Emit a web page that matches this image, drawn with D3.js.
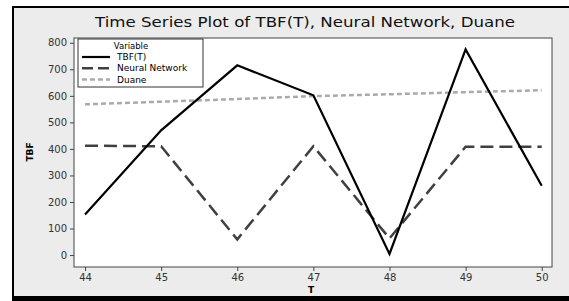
<!DOCTYPE html>
<html>
<head>
<meta charset="utf-8">
<script src="https://cdn.jsdelivr.net/npm/d3@7"></script>
<style>
  body { margin: 0; background: #fff; }
  svg { display: block; }
</style>
</head>
<body>
<div id="chart"></div>
<script>
///// DATA /////
const periods = [44, 45, 46, 47, 48, 49, 50];
const tbf = [153, 470, 715, 602, 4, 775, 261];
const neuralNetwork = [412, 410, 59, 410, 63, 408, 408];
const duane = [568, 578, 588, 599, 606, 614, 621];
const yTicks = [0, 100, 200, 300, 400, 500, 600, 700, 800];
const seriesNames = ["TBF(T)", "Neural Network", "Duane"];

///// CHART /////
const width = 569;
const height = 301;
const plot = { left: 74, right: 552, top: 38, bottom: 267 };

const svg = d3.select("#chart").append("svg")
    .attr("width", width)
    .attr("height", height);

// outer frame
svg.append("rect")
    .attr("x", 13).attr("y", 7)
    .attr("width", width).attr("height", 290)
    .attr("fill", "#ececec")
    .attr("stroke", "#000")
    .attr("stroke-width", 2);
svg.append("rect")
    .attr("x", 12).attr("y", 296)
    .attr("width", width).attr("height", 6)
    .attr("fill", "#000");

const x = d3.scaleLinear()
    .domain([43.855, 50.135])
    .range([plot.left, plot.right]);

const y = d3.scaleLinear()
    .domain([-45, 818])
    .range([plot.bottom, plot.top]);

// plot area
svg.append("rect")
    .attr("x", plot.left).attr("y", plot.top)
    .attr("width", plot.right - plot.left)
    .attr("height", plot.bottom - plot.top)
    .attr("fill", "#fff")
    .attr("stroke", "#444")
    .attr("stroke-width", 1);

// axes
const xAxis = svg.append("g")
    .attr("transform", `translate(0,${plot.bottom})`)
    .call(d3.axisBottom(x).tickValues(periods).tickFormat(d3.format("d")).tickSize(4).tickPadding(3));

const yAxis = svg.append("g")
    .attr("transform", `translate(${plot.left},0)`)
    .call(d3.axisLeft(y).tickValues(yTicks).tickSize(4).tickPadding(3));

[xAxis, yAxis].forEach(g => {
    g.select(".domain").remove();
    g.selectAll(".tick line").attr("stroke", "#444");
    g.selectAll(".tick text")
        .attr("fill", "#333")
        .style("font", "10px 'DejaVu Sans', sans-serif");
});

// titles
svg.append("text")
    .attr("x", 305).attr("y", 27)
    .attr("text-anchor", "middle")
    .attr("textLength", 420)
    .attr("lengthAdjust", "spacingAndGlyphs")
    .style("font", "14px 'DejaVu Sans', sans-serif")
    .attr("fill", "#111")
    .text("Time Series Plot of TBF(T), Neural Network, Duane");

svg.append("text")
    .attr("x", 311).attr("y", 293)
    .attr("text-anchor", "middle")
    .style("font", "bold 9px 'DejaVu Sans', sans-serif")
    .text("T");

svg.append("text")
    .attr("transform", `translate(33,152) rotate(-90)`)
    .attr("text-anchor", "middle")
    .style("font", "bold 9px 'DejaVu Sans', sans-serif")
    .text("TBF");

// series
const styles = [
    { values: tbf, stroke: "#000", width: 2.2, dash: null },
    { values: neuralNetwork, stroke: "#404040", width: 2.5, dash: "13,6" },
    { values: duane, stroke: "#aaa", width: 2.5, dash: "5,3" }
];

const line = d3.line()
    .x((d, i) => x(periods[i]))
    .y(d => y(d));

// draw Duane first, then NN, then TBF on top
[2, 1, 0].forEach(k => {
    const s = styles[k];
    svg.append("path")
        .datum(s.values)
        .attr("fill", "none")
        .attr("stroke", s.stroke)
        .attr("stroke-width", s.width)
        .attr("stroke-dasharray", s.dash)
        .attr("d", line);
});

// legend
const legend = svg.append("g");
legend.append("rect")
    .attr("x", 78).attr("y", 39)
    .attr("width", 125).attr("height", 48)
    .attr("fill", "#fff")
    .attr("stroke", "#333")
    .attr("stroke-width", 1);
legend.append("text")
    .attr("x", 131).attr("y", 49)
    .attr("text-anchor", "middle")
    .style("font", "8.5px 'DejaVu Sans', sans-serif")
    .text("Variable");
seriesNames.forEach((name, i) => {
    const ly = 57 + i * 11.3;
    legend.append("line")
        .attr("x1", 82).attr("x2", 110)
        .attr("y1", ly).attr("y2", ly)
        .attr("stroke", styles[i].stroke)
        .attr("stroke-width", styles[i].width)
        .attr("stroke-dasharray", i === 1 ? "11,5" : styles[i].dash);
    legend.append("text")
        .attr("x", 117).attr("y", ly + 3)
        .style("font", "9px 'DejaVu Sans', sans-serif")
        .text(name);
});
</script>
</body>
</html>
